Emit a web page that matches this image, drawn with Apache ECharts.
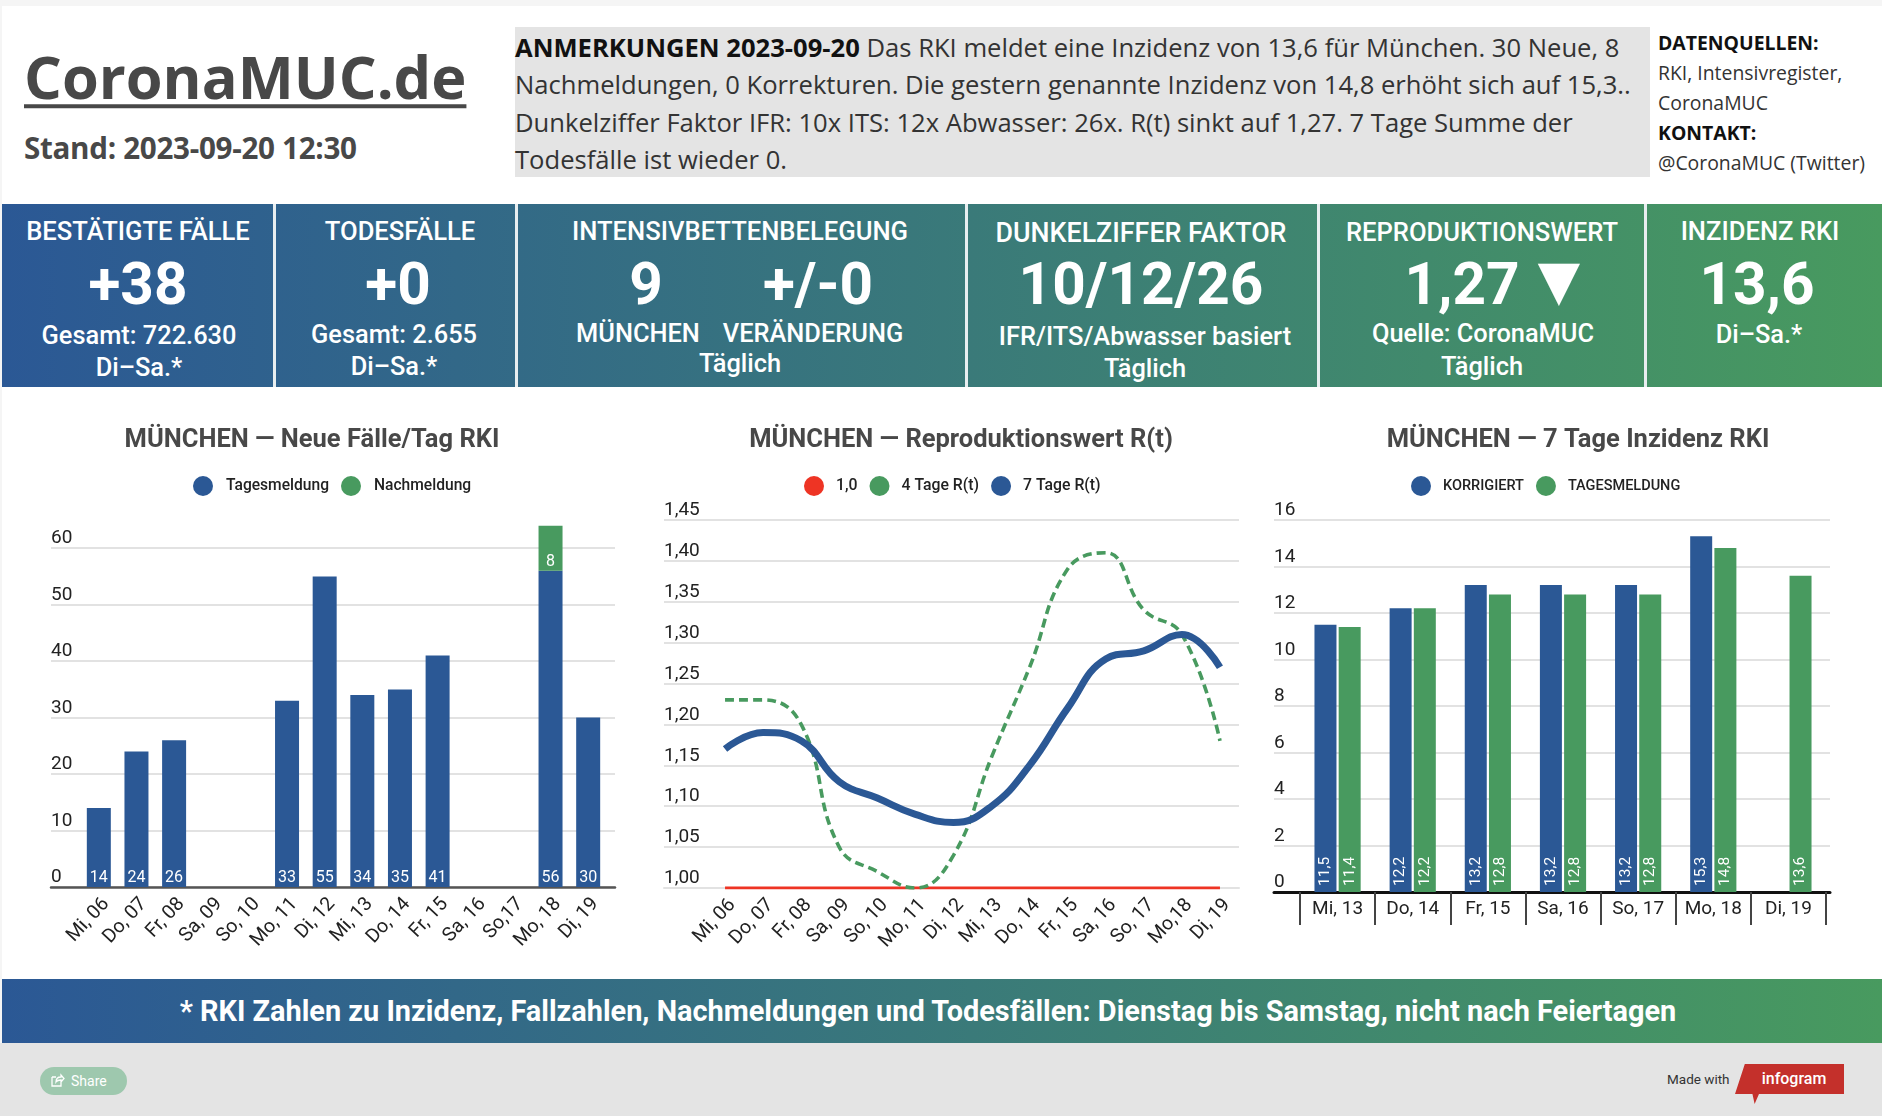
<!DOCTYPE html>
<html lang="de">
<head>
<meta charset="utf-8">
<title>CoronaMUC.de</title>
<script src="https://cdn.jsdelivr.net/npm/echarts@6/dist/echarts.min.js"></script>
<style>
html,body{margin:0;padding:0;background:#fff;overflow:hidden}
#page{position:relative;width:1882px;height:1116px;overflow:hidden;background:#fff}
#chart{position:absolute;left:0;top:0;width:1882px;height:1116px}
.t{position:absolute;white-space:nowrap;line-height:1}
.c{transform:translate(-50%,-50%)}
.v{transform:translateY(-50%)}
.r{font-family:Roboto,sans-serif;color:#fff}
.o{font-family:"Open Sans",sans-serif}
.h{font-size:25.6px;font-weight:500}
.b{font-size:58.500px;font-weight:700}
.s{font-size:25.4px;font-weight:500}
.sep{position:absolute;top:204px;height:183px;width:3px;background:#e8eef0}
</style>
</head>
<body>
<div id="page">
<div style="position:absolute;left:0;top:0;width:1882px;height:6px;background:#f5f5f5"></div>
<div style="position:absolute;left:0;top:0;width:2px;height:1116px;background:#f5f5f5"></div>

<div class="t o v" style="left:24px;top:76px;font-size:59.500px;font-weight:700;color:#484848;text-decoration:underline;text-decoration-thickness:4px;text-underline-offset:5px">CoronaMUC.de</div>
<div class="t o v" style="left:24px;top:148px;font-size:29.600px;font-weight:700;color:#484848;letter-spacing:-0.3px">Stand: 2023-09-20 12:30</div>

<div style="position:absolute;left:515px;top:27px;width:1135px;height:150px;background:#e4e4e4"></div>
<div class="t o v" style="left:515px;top:48px;font-size:25.6px;color:#333"><b style="color:#111">ANMERKUNGEN 2023-09-20</b> Das RKI meldet eine Inzidenz von 13,6 für München. 30 Neue, 8</div>
<div class="t o v" style="left:515px;top:85px;font-size:25.6px;color:#333">Nachmeldungen, 0 Korrekturen. Die gestern genannte Inzidenz von 14,8 erhöht sich auf 15,3..</div>
<div class="t o v" style="left:515px;top:123px;font-size:25.6px;color:#333">Dunkelziffer Faktor IFR: 10x ITS: 12x Abwasser: 26x. R(t) sinkt auf 1,27. 7 Tage Summe der</div>
<div class="t o v" style="left:515px;top:160px;font-size:25.6px;color:#333">Todesfälle ist wieder 0.</div>

<div class="t o v" style="left:1658px;top:43px;font-size:19.400px;font-weight:700;color:#111">DATENQUELLEN:</div>
<div class="t o v" style="left:1658px;top:73px;font-size:19.400px;color:#333">RKI, Intensivregister,</div>
<div class="t o v" style="left:1658px;top:103px;font-size:19.400px;color:#333">CoronaMUC</div>
<div class="t o v" style="left:1658px;top:133px;font-size:19.400px;font-weight:700;color:#111">KONTAKT:</div>
<div class="t o v" style="left:1658px;top:163px;font-size:19.400px;color:#333">@CoronaMUC (Twitter)</div>

<div style="position:absolute;left:2px;top:204px;width:1880px;height:183px;background:linear-gradient(90deg,#2b5895,#489a5f)"></div>
<div class="sep" style="left:273px"></div><div class="sep" style="left:515px"></div><div class="sep" style="left:965px"></div><div class="sep" style="left:1317px"></div><div class="sep" style="left:1644px"></div>

<div class="t r c h" style="left:138px;top:232px">BESTÄTIGTE FÄLLE</div>
<div class="t r c b" style="left:138px;top:284px">+38</div>
<div class="t r c s" style="left:139px;top:336px">Gesamt: 722.630</div>
<div class="t r c s" style="left:139px;top:368px">Di–Sa.*</div>

<div class="t r c h" style="left:400px;top:232px">TODESFÄLLE</div>
<div class="t r c b" style="left:398px;top:284px">+0</div>
<div class="t r c s" style="left:394px;top:335px">Gesamt: 2.655</div>
<div class="t r c s" style="left:394px;top:367px">Di–Sa.*</div>

<div class="t r c h" style="left:740px;top:232px">INTENSIVBETTENBELEGUNG</div>
<div class="t r c b" style="left:646px;top:284px">9</div>
<div class="t r c b" style="left:818px;top:284px">+/-0</div>
<div class="t r c s" style="left:638px;top:334px">MÜNCHEN</div>
<div class="t r c s" style="left:813px;top:334px">VERÄNDERUNG</div>
<div class="t r c s" style="left:740px;top:364px">Täglich</div>

<div class="t r c h" style="left:1141px;top:233px;font-size:26.800px">DUNKELZIFFER FAKTOR</div>
<div class="t r c b" style="left:1141px;top:284px">10/12/26</div>
<div class="t r c s" style="left:1145px;top:337px">IFR/ITS/Abwasser basiert</div>
<div class="t r c s" style="left:1145px;top:369px">Täglich</div>

<div class="t r c h" style="left:1482px;top:233px">REPRODUKTIONSWERT</div>
<div class="t r c b" style="left:1462px;top:284px">1,27</div>
<div class="t r c b" style="left:1559px;top:281px;font-size:72px">▼</div>
<div class="t r c s" style="left:1483px;top:334px">Quelle: CoronaMUC</div>
<div class="t r c s" style="left:1482px;top:367px">Täglich</div>

<div class="t r c h" style="left:1760px;top:232px">INZIDENZ RKI</div>
<div class="t r c b" style="left:1757px;top:284px">13,6</div>
<div class="t r c s" style="left:1759px;top:335px">Di–Sa.*</div>

<div style="position:absolute;left:2px;top:979px;width:1880px;height:64px;background:linear-gradient(90deg,#2b5895,#489a5f)"></div>
<div class="t r c" style="left:928px;top:1011px;font-size:28.900px;font-weight:700">* RKI Zahlen zu Inzidenz, Fallzahlen, Nachmeldungen und Todesfällen: Dienstag bis Samstag, nicht nach Feiertagen</div>
<div style="position:absolute;left:0;top:1043px;width:1882px;height:73px;background:#e4e4e4"></div>
<div style="position:absolute;left:40px;top:1067px;width:87px;height:28px;border-radius:14px;background:#9ec8ae"></div>
<svg style="position:absolute;left:50px;top:1073px" width="15" height="15" viewBox="0 0 15 15"><path d="M2 4h4M2 4v9h9V9M6 9c0-3 2-5 5-5V2l3 3.500-3 3.500V7c-2 0-4 .5-5 2z" fill="none" stroke="#fff" stroke-width="1.300"/></svg>
<div class="t r v" style="left:71px;top:1081px;font-size:14px;font-weight:400">Share</div>
<div class="t r v" style="left:1667px;top:1080px;font-size:13.500px;color:#333">Made with</div>
<div style="position:absolute;left:1735px;top:1064px;width:109px;height:40px;background:#c4302b;clip-path:polygon(9% 0,100% 0,100% 75%,22% 75%,18% 100%,16% 75%,0 75%)"></div>
<div class="t r c" style="left:1794px;top:1079px;font-size:16px;font-weight:500">infogram</div>

<div id="chart"></div>
</div>
<script>
// Chart 1: Neue Fälle/Tag
const caseDays = ['Mi, 06','Do, 07','Fr, 08','Sa, 09','So, 10','Mo, 11','Di, 12','Mi, 13','Do, 14','Fr, 15','Sa, 16','So,17','Mo, 18','Di, 19'];
const tagesmeldung = [14,24,26,null,null,33,55,34,35,41,null,null,56,30];
const nachmeldung = [null,null,null,null,null,null,null,null,null,null,null,null,8,null];

// Chart 2: Reproduktionswert
const rDays = ['Mi, 06','Do, 07','Fr, 08','Sa, 09','So, 10','Mo, 11','Di, 12','Mi, 13','Do, 14','Fr, 15','Sa, 16','So, 17','Mo,18','Di, 19'];
const rOne = [1,1,1,1,1,1,1,1,1,1,1,1,1,1];
const rFour = [1.23,1.23,1.20,1.05,1.02,1.00,1.04,1.16,1.27,1.39,1.41,1.34,1.31,1.18];
const rSeven = [1.17,1.19,1.18,1.13,1.11,1.09,1.08,1.10,1.15,1.22,1.28,1.29,1.31,1.27];

// Chart 3: 7 Tage Inzidenz
const incDays = ['Mi, 13','Do, 14','Fr, 15','Sa, 16','So, 17','Mo, 18','Di, 19'];
const incKorrigiert = [11.5,12.2,13.2,13.2,13.2,15.3,null];
const incTagesmeldung = [11.4,12.2,12.8,12.8,12.8,14.8,13.6];

const BLUE = '#2b5895', GREEN = '#489a5f', RED = '#ee3424';
const FONT = 'Roboto, sans-serif';
const comma = (v, d) => Number(v).toFixed(d).replace('.', ',');

const titles = [
  ['MÜNCHEN — Neue Fälle/Tag RKI', 312],
  ['MÜNCHEN — Reproduktionswert R(t)', 961],
  ['MÜNCHEN — 7 Tage Inzidenz RKI', 1578]
].map(([text, x]) => ({
  text, left: x, top: 425.500, padding: 0, textAlign: 'center',
  textStyle: {fontFamily: FONT, fontSize: 25.500, fontWeight: 700, color: '#484848', lineHeight: 30}
}));

const legendBase = {
  orient: 'horizontal', icon: 'circle', itemWidth: 20, itemHeight: 20, padding: 0, top: 476,
  selectedMode: false, inactiveColor: '#ccc'
};
const legText = (size, pad) => ({fontFamily: FONT, fontSize: size, fontWeight: 500, color: '#222', padding: [0, 0, 0, pad]});
const legends = [
  {...legendBase, left: 193, itemGap: 12, data: ['Tagesmeldung', 'Nachmeldung'], textStyle: legText(15.600, 8)},
  {...legendBase, left: 804, itemGap: 12, data: ['1,0', '4 Tage R(t)', '7 Tage R(t)'], textStyle: legText(15.800, 7)},
  {...legendBase, left: 1411, itemGap: 12, data: ['KORRIGIERT', 'TAGESMELDUNG'], textStyle: legText(14.500, 7)}
];

const gridLine = {show: true, showMaxLine: false, lineStyle: {color: '#e2e2e2', width: 2}};
const grids = [
  {left: 51, top: 520, width: 564, height: 367},
  {left: 80, top: 520, width: 527, height: 367},
  {left: 664, top: 520, width: 575, height: 368},
  {left: 706, top: 520, width: 533, height: 368},
  {left: 1274, top: 520, width: 556, height: 372},
  {left: 1300, top: 520, width: 526, height: 372}
];

const bgX = (gridIndex, color, width) => ({
  gridIndex, type: 'value', min: 0, max: 1,
  axisLine: {show: true, onZero: false, lineStyle: {color, width}},
  axisTick: {show: false}, axisLabel: {show: false}, splitLine: {show: false}
});
const bgY = (gridIndex, min, max, interval, formatter, showMaxLine) => ({
  gridIndex, type: 'value', min, max, interval,
  axisLine: {show: false}, axisTick: {show: false},
  splitLine: {...gridLine, showMaxLine},
  axisLabel: {inside: true, margin: 0, align: 'left', verticalAlign: 'bottom', padding: [0, 0, 0, 0],
    fontFamily: FONT, fontSize: 19, color: '#222', formatter, showMaxLabel: showMaxLine}
});
const hiddenY = (gridIndex, min, max) => ({gridIndex, type: 'value', min, max, show: false});
const dayX = (gridIndex, data) => ({
  gridIndex, type: 'category', data,
  axisLine: {show: false}, axisTick: {show: false},
  axisLabel: {interval: 0, rotate: 47, margin: 7, verticalAlign: 'top', fontFamily: FONT, fontSize: 19.500, color: '#222'}
});

const xAxes = [
  bgX(0, '#555', 2.500),
  dayX(1, caseDays),
  bgX(2, '#e2e2e2', 2),
  dayX(3, rDays),
  bgX(4, '#111', 3),
  {gridIndex: 5, type: 'category', data: incDays,
    axisLine: {show: false},
    axisTick: {show: true, length: 33, lineStyle: {color: '#444', width: 2}},
    axisLabel: {interval: 0, margin: 8, fontFamily: FONT, fontSize: 19, color: '#222'}}
];
const yAxes = [
  bgY(0, 0, 65, 10, v => String(v), false),
  hiddenY(1, 0, 65),
  bgY(2, 1, 1.45, 0.05, v => comma(v, 2), true),
  hiddenY(3, 1, 1.45),
  bgY(4, 0, 16, 2, v => String(v), true),
  hiddenY(5, 0, 16)
];

const caseLabel = {show: true, position: 'insideBottom', distance: 1, color: '#fff', fontFamily: FONT, fontSize: 16};
const incLabel = {show: true, position: 'insideBottom', rotate: 90, align: 'left', verticalAlign: 'middle', distance: 6,
  color: '#fff', fontFamily: FONT, fontSize: 15.500, formatter: p => comma(p.value, 1)};

const series = [
  {name: 'Tagesmeldung', type: 'bar', xAxisIndex: 1, yAxisIndex: 1, stack: 'c', barWidth: 24,
    itemStyle: {color: BLUE}, label: caseLabel, data: tagesmeldung},
  {name: 'Nachmeldung', type: 'bar', xAxisIndex: 1, yAxisIndex: 1, stack: 'c', barWidth: 24,
    itemStyle: {color: GREEN}, label: caseLabel, data: nachmeldung},
  {name: '1,0', type: 'line', xAxisIndex: 3, yAxisIndex: 3, showSymbol: false, symbol: 'none',
    itemStyle: {color: RED}, lineStyle: {color: RED, width: 3}, z: 3, data: rOne},
  {name: '4 Tage R(t)', type: 'line', xAxisIndex: 3, yAxisIndex: 3, smooth: 0.45, showSymbol: false, symbol: 'none',
    itemStyle: {color: GREEN}, lineStyle: {color: GREEN, width: 3.600, type: [9, 5]}, z: 4, data: rFour},
  {name: '7 Tage R(t)', type: 'line', xAxisIndex: 3, yAxisIndex: 3, smooth: 0.45, showSymbol: false, symbol: 'none',
    itemStyle: {color: BLUE}, lineStyle: {color: BLUE, width: 7}, z: 5, data: rSeven},
  {name: 'KORRIGIERT', type: 'bar', xAxisIndex: 5, yAxisIndex: 5, barWidth: 22, barGap: '10%',
    itemStyle: {color: BLUE}, label: incLabel, data: incKorrigiert},
  {name: 'TAGESMELDUNG', type: 'bar', xAxisIndex: 5, yAxisIndex: 5, barWidth: 22, barGap: '10%',
    itemStyle: {color: GREEN}, label: incLabel, data: incTagesmeldung}
];

const chart = echarts.init(document.getElementById('chart'), null, {renderer: 'canvas'});
chart.setOption({
  animation: false,
  backgroundColor: 'transparent',
  title: titles, legend: legends, grid: grids,
  xAxis: xAxes, yAxis: yAxes, series
});
</script>
</body>
</html>
